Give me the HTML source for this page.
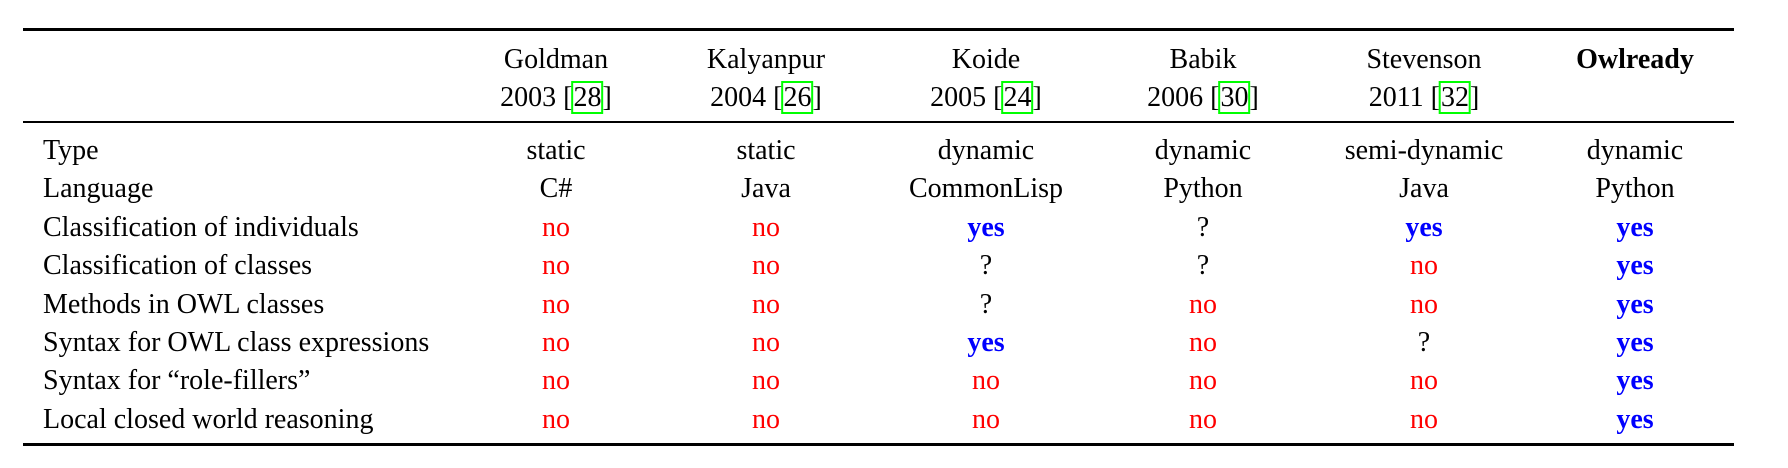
<!DOCTYPE html>
<html><head><meta charset="utf-8"><style>
body{margin:0;width:1788px;height:468px;background:#fff;position:relative;overflow:hidden;font-family:"Liberation Serif",serif;font-size:28px;color:#000}
.rule{position:absolute;left:23px;width:1711px;background:#000}
.t{position:absolute;white-space:nowrap;line-height:1}
.c{transform:translateX(-50%)}
.no{color:#ff0000}
.yes{color:#0000ff;font-weight:bold}
.cite{outline:2px solid #00ff00;outline-offset:-1px;padding:0 1px}
</style></head><body>
<div class="rule" style="top:28px;height:3px"></div>
<div class="rule" style="top:121px;height:2px"></div>
<div class="rule" style="top:443px;height:3px"></div>
<div id="tbl"></div>
<script>
const cols=[556,766,986,1203,1424,1635];
const authors=["Goldman","Kalyanpur","Koide","Babik","Stevenson","Owlready"];
const years=["2003","2004","2005","2006","2011",""];
const cites=["28","26","24","30","32",""];
const labels=["Type","Language","Classification of individuals","Classification of classes","Methods in OWL classes","Syntax for OWL class expressions","Syntax for \u201crole-fillers\u201d","Local closed world reasoning"];
const cells=[
["static","static","dynamic","dynamic","semi-dynamic","dynamic"],
["C#","Java","CommonLisp","Python","Java","Python"],
["no","no","yes","?","yes","yes"],
["no","no","?","?","no","yes"],
["no","no","?","no","no","yes"],
["no","no","yes","no","?","yes"],
["no","no","no","no","no","yes"],
["no","no","no","no","no","yes"]];
const tbl=document.getElementById('tbl');
function add(x,base,html,cls){const d=document.createElement('div');d.className='t '+cls;d.style.left=x+'px';d.style.top=(base-21)+'px';d.innerHTML=html;tbl.appendChild(d);return d;}
authors.forEach((a,i)=>{
 const h=add(cols[i],67,a,'c');
 
 
 if(i==5)h.style.fontWeight='bold';
 if(years[i]){
  const y=add(cols[i],105,years[i]+' [<span class="cite">'+cites[i]+'</span>]','c');
  
  
 }
});
labels.forEach((l,r)=>{
 const base=158+r*38.4;
 const d=add(43,base,l,'');
 
 
 cells[r].forEach((v,i)=>{
  const cls=v=='no'?'no':v=='yes'?'yes':'';
  const e=add(cols[i],base,v,'c '+cls);
  
  
 });
});
</script>
</body></html>
